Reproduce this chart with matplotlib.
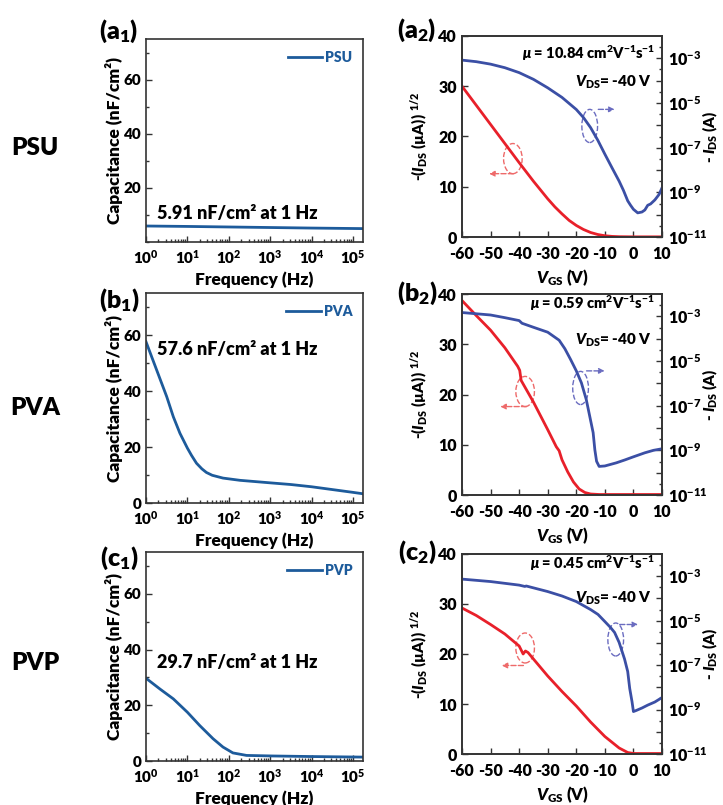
import matplotlib
matplotlib.use("Agg")
import matplotlib.pyplot as plt
from matplotlib.patches import Ellipse
from matplotlib.ticker import LogLocator, FixedLocator, MultipleLocator, NullFormatter, FuncFormatter
import numpy as np

plt.rcParams['font.family'] = ['Lato', 'DejaVu Sans']
plt.rcParams['font.weight'] = 'heavy'
plt.rcParams['axes.labelweight'] = 'heavy'
plt.rcParams['axes.unicode_minus'] = False
plt.rcParams['mathtext.fontset'] = 'custom'
plt.rcParams['mathtext.rm'] = 'Lato:heavy'
plt.rcParams['mathtext.bf'] = 'Lato:heavy'
plt.rcParams['mathtext.it'] = 'Lato:italic:heavy'
plt.rcParams['mathtext.sf'] = 'Lato:heavy'

W, H = 723, 805

# capacitance vs frequency (log10 of f in Hz, nF/cm2)
psu_logf = [0, 1, 2, 3, 4, 5.24]
psu_cap = [5.91, 5.75, 5.55, 5.35, 5.15, 4.95]
pva_logf = [0, 0.26, 0.5, 0.66, 0.82, 1.0, 1.1, 1.22, 1.35, 1.46, 1.6, 1.86, 2.27, 3, 3.5, 4, 4.5, 5, 5.24]
pva_cap = [57.6, 47.4, 38.0, 30.8, 24.9, 19.6, 17.0, 14.2, 12.2, 10.9, 9.9, 8.9, 8.1, 7.2, 6.6, 5.8, 4.8, 3.8, 3.3]
pvp_logf = [0, 0.34, 0.66, 1.0, 1.3, 1.62, 1.86, 2.1, 2.43, 3.07, 4, 5.24]
pvp_cap = [29.7, 25.8, 22.3, 17.5, 12.7, 8.0, 5.0, 2.9, 2.0, 1.8, 1.6, 1.4]

# transfer curves: red = sqrt(-I_DS) (uA^1/2), blue = log10(-I_DS / A)
psu_vr = [-60, -55, -50, -45, -40, -35, -30, -27.5, -25, -22.5, -20, -17.5, -15, -12.5, -10, -7.5, -5, 0, 5, 10]
psu_sqrt = [30.0, 26.2, 22.4, 18.6, 14.8, 11.1, 7.6, 6.0, 4.6, 3.3, 2.3, 1.5, 0.9, 0.5, 0.25, 0.12, 0.06, 0.03, 0.03, 0.03]
psu_vb = [-60, -55, -50, -45, -40, -35, -30, -25, -20, -17.5, -15, -12.5, -10, -7.5, -5, -3.5, -2, -1, 0, 1.5, 3, 4, 5, 6, 7.5, 9, 10]
psu_logi = [-3.08, -3.15, -3.26, -3.42, -3.64, -3.94, -4.32, -4.75, -5.29, -5.65, -6.10, -6.66, -7.29, -7.90,
            -8.50, -8.91, -9.38, -9.58, -9.76, -9.92, -9.88, -9.79, -9.58, -9.52, -9.34, -9.09, -8.80]

pva_vr = [-60, -55, -50, -45, -40.5, -39.8, -39.3, -35, -30, -27, -26, -25, -23, -21, -19, -17, -15, -12, 10]
pva_sqrt = [38.7, 35.7, 32.8, 29.3, 25.6, 24.8, 22.8, 18.5, 13.0, 9.6, 8.8, 7.0, 4.6, 2.6, 1.2, 0.5, 0.2, 0.1, 0.1]
pva_vb = [-60, -50, -45, -40, -39, -35, -30, -27, -26, -24, -22, -20, -18.2, -16.5, -15.3, -14.1, -13.5,
          -12.9, -12, -10, -6, -3, 0, 4, 7, 10]
pva_logi = [-2.83, -2.94, -3.06, -3.19, -3.31, -3.49, -3.71, -3.98, -4.07, -4.45, -4.93, -5.44, -5.98, -6.73,
            -7.47, -8.21, -8.98, -9.49, -9.72, -9.70, -9.56, -9.43, -9.29, -9.11, -9.00, -8.93]

pvp_vr = [-60, -55, -50, -45, -40, -38.6, -37.8, -36.9, -35, -30, -25, -20, -15, -10, -5, -2, 0, 10]
pvp_sqrt = [29.2, 27.7, 25.9, 24.0, 21.6, 20.0, 20.6, 20.3, 19.0, 15.6, 12.5, 9.6, 6.4, 3.5, 1.2, 0.3, 0.1, 0.1]
pvp_vb = [-60, -50, -40, -38, -37.5, -30, -25, -20, -15, -12.4, -10, -8, -6.6, -5, -3.1, -2, -1.3, -0.5,
          0, 1, 3, 5, 7.5, 10]
pvp_logi = [-3.13, -3.24, -3.40, -3.46, -3.44, -3.69, -3.89, -4.14, -4.50, -4.72, -5.04, -5.31, -5.53, -5.98,
            -6.73, -7.29, -8.05, -8.64, -9.09, -9.04, -8.93, -8.80, -8.66, -8.46]

materials = ['PSU', 'PVA', 'PVP']
cap_notes = ['5.91 nF/cm² at 1 Hz', '57.6 nF/cm² at 1 Hz', '29.7 nF/cm² at 1 Hz']
mobility = ['10.84', '0.59', '0.45']
letters = ['a', 'b', 'c']

cap_data = [(psu_logf, psu_cap), (pva_logf, pva_cap), (pvp_logf, pvp_cap)]
tr_data = [(psu_vr, psu_sqrt, psu_vb, psu_logi),
           (pva_vr, pva_sqrt, pva_vb, pva_logi),
           (pvp_vr, pvp_sqrt, pvp_vb, pvp_logi)]

# layout in pixels (top, bottom)
left_rows = [(39, 242), (293, 503), (552, 761)]
right_rows = [(36, 237), (294, 495), (554, 754)]
row_label_y = [148, 408, 663]
lab1_y = [31, 300, 558]
lab2_y = [30, 293, 552]
note_y = [213, 350, 662]
mu_y = [53, 303, 563]
vds_y = [82, 340, 598]
# ellipse centres / arrows (V, sqrt units)
red_mark = [(-42.2, 15.6, -42.0, 12.6, -50.5), (-37.9, 20.6, -37.4, 17.6, -46.6), (-37.9, 21.2, -38.5, 17.7, -46.1)]
blue_mark = [(-15.3, 22.1, -12.3, 25.4, -6.6), (-18.5, 21.3, -16.4, 24.7, -10.1), (-6.2, 22.9, -4.8, 25.9, 1.6)]

C_LEFT = '#1d5b9b'
C_BLUE = '#3b4fa5'
C_RED = '#e8202a'
SPINE = '#333333'

fig = plt.figure(figsize=(W / 100, H / 100), dpi=100)


def rect(left, right, top, bottom):
    return [left / W, 1 - bottom / H, (right - left) / W, (bottom - top) / H]


def style(ax, size=11):
    for s in ax.spines.values():
        s.set_color(SPINE)
        s.set_linewidth(1.2)
    ax.tick_params(which='both', direction='in', color=SPINE, width=1)
    ax.tick_params(which='major', length=4, labelsize=size)
    ax.tick_params(which='minor', length=2)


for i in range(3):
    top, bot = left_rows[i]
    ax = fig.add_axes(rect(146, 363, top, bot))
    style(ax)
    lf, cap = cap_data[i]
    ax.plot(10 ** np.array(lf), cap, color=C_LEFT, lw=2, label=materials[i])
    ax.set_xscale('log')
    ax.set_xlim(1, 1.75e5)
    ax.set_ylim(0, 75)
    ax.set_yticks([20, 40, 60] if i == 0 else [0, 20, 40, 60])
    ax.yaxis.set_minor_locator(MultipleLocator(10))
    ax.xaxis.set_major_locator(LogLocator(base=10, numticks=10))
    ax.xaxis.set_minor_locator(LogLocator(base=10, subs=np.arange(2, 10), numticks=20))
    ax.xaxis.set_minor_formatter(NullFormatter())
    ax.tick_params(top=False, right=False, which='both')
    ax.tick_params(axis='x', pad=4.5)
    ax.set_xlabel('Frequency (Hz)', fontsize=12.5)
    ax.set_ylabel('Capacitance (nF/cm²)', fontsize=12.5)
    ax.yaxis.set_label_coords((123 - 146) / 217, 0.5)
    ax.xaxis.set_label_coords(0.5, -29 / (bot - top))
    ax.legend(loc='center right', bbox_to_anchor=(0.95, 1 - 18 / (bot - top)), frameon=False,
              handlelength=2.5, handletextpad=0.2, borderpad=0, borderaxespad=0,
              prop={'weight': 'heavy', 'size': 10}, labelcolor=C_LEFT)
    fig.text(157 / W, 1 - note_y[i] / H, cap_notes[i], fontsize=13, ha='left', va='center')
    fig.text(35 / W, 1 - row_label_y[i] / H, materials[i], fontsize=17.5, ha='center', va='center')
    fig.text(119 / W, 1 - lab1_y[i] / H, '(' + letters[i] + '$_1$)', fontsize=18, ha='center', va='center')

    # transfer panel
    top, bot = right_rows[i]
    ax = fig.add_axes(rect(462, 662, top, bot))
    style(ax, 11.5)
    vr, sq, vb, li = tr_data[i]
    ax.plot(vr, sq, color=C_RED, lw=2)
    ax.set_xlim(-60, 10)
    ax.set_ylim(0, 40)
    ax.set_xticks(np.arange(-60, 11, 10))
    ax.set_yticks(np.arange(0, 41, 10))
    ax.tick_params(top=False, right=False, which='both')
    ax.tick_params(axis='x', pad=6.5)
    ax.set_xlabel('$V_{\\rm GS}$ (V)', fontsize=12)
    ax.set_ylabel('-($I_{\\rm DS}$ (µA)) $^{1/2}$', fontsize=11)
    ax.yaxis.set_label_coords((430 - 462) / 200, 0.5)
    ax.xaxis.set_label_coords(0.5, -30 / (bot - top))

    cx, cy, ax0, ay, ax1 = red_mark[i]
    ax.add_patch(Ellipse((cx, cy), 6.5, 6.0, fill=False, ls='--', color='#ee6a6a', lw=1))
    ax.annotate('', xy=(ax1, ay), xytext=(ax0, ay),
                arrowprops=dict(arrowstyle='-|>', ls='--', color='#ee6a6a', lw=1, shrinkA=0, shrinkB=0,
                                mutation_scale=8))
    cx, cy, ax0, ay, ax1 = blue_mark[i]
    ax.add_patch(Ellipse((cx, cy), 5.5, 6.6, fill=False, ls='--', color='#6a6cc0', lw=1))
    ax.annotate('', xy=(ax1, ay), xytext=(ax0, ay),
                arrowprops=dict(arrowstyle='-|>', ls='--', color='#6a6cc0', lw=1, shrinkA=0, shrinkB=0,
                                mutation_scale=8))

    ax2 = ax.twinx()
    ax2.plot(vb, 10 ** np.array(li), color=C_BLUE, lw=2)
    ax2.set_yscale('log')
    ax2.set_ylim(1e-11, 1e-2)
    style(ax2, 11.5)
    ax2.yaxis.set_major_locator(FixedLocator([10.0 ** k for k in range(-11, -2)]))
    ax2.yaxis.set_minor_locator(LogLocator(base=10, subs=(10 ** 0.5,), numticks=20))
    ax2.yaxis.set_minor_formatter(NullFormatter())
    ax2.yaxis.set_major_formatter(FuncFormatter(
        lambda v, p: '$10^{%d}$' % round(np.log10(v)) if round(np.log10(v)) % 2 else ''))
    ax2.tick_params(axis='y', pad=4)
    ax2.set_ylabel('- $I_{\\rm DS}$ (A)', fontsize=11)
    ax2.yaxis.set_label_coords((701 - 462) / 200, 0.5)

    fig.text(655 / W, 1 - mu_y[i] / H, '$\\mu$ = ' + mobility[i] + ' cm$^2$V$^{-1}$s$^{-1}$',
             fontsize=10.5, ha='right', va='center')
    fig.text(652 / W, 1 - vds_y[i] / H, '$V_{\\rm DS}$= -40 V', fontsize=11, ha='right', va='center')
    fig.text(417 / W, 1 - lab2_y[i] / H, '(' + letters[i] + '$_2$)', fontsize=18, ha='center', va='center')

fig.savefig('out.png', dpi=100)
